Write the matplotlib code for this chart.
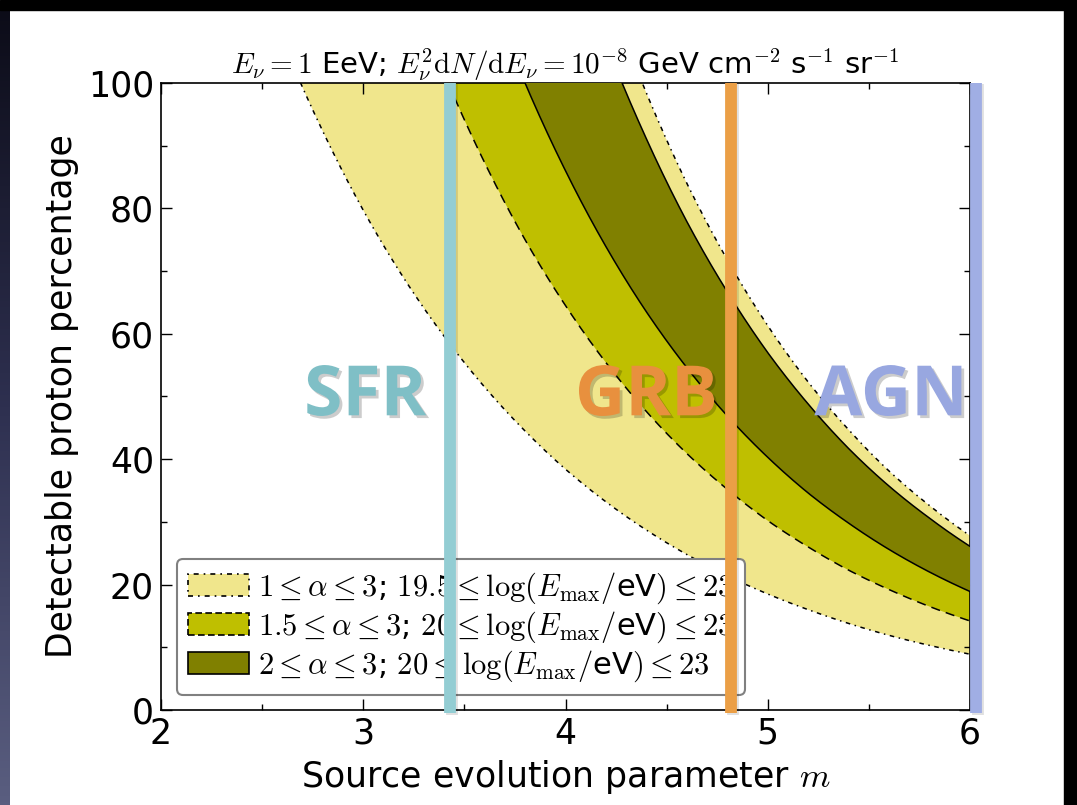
import numpy as np
import matplotlib
matplotlib.use("Agg")
import matplotlib.pyplot as plt
import matplotlib.patheffects as pe
from matplotlib.patches import Patch, Rectangle
from matplotlib.colors import LinearSegmentedColormap
from matplotlib.ticker import MultipleLocator

plt.rcParams["font.family"] = "DejaVu Sans"
plt.rcParams["mathtext.fontset"] = "cm"

# band edges: detectable proton percentage vs source evolution m
m_wide_lo = [2.6, 2.8, 3.0, 3.2, 3.4, 3.6, 3.8, 4.0, 4.2, 4.4, 4.6, 4.8, 5.0, 5.2, 5.4, 5.6, 5.8, 6.0]
pct_wide_lo = [106.8, 92.3, 79.7, 68.9, 59.6, 51.5, 44.5, 38.4, 33.2, 28.7, 24.8, 21.4, 18.5, 16.0, 13.8, 11.9, 10.3, 8.9]

m_wide_hi = [4.2, 4.4, 4.6, 4.8, 5.0, 5.2, 5.4, 5.6, 5.8, 6.0]
pct_wide_hi = [115.3, 98.4, 84.0, 71.8, 61.3, 52.3, 44.7, 38.1, 32.6, 27.8]

m_mid_lo = [3.2, 3.4, 3.6, 3.8, 4.0, 4.2, 4.4, 4.6, 4.8, 5.0, 5.2, 5.4, 5.6, 5.8, 6.0]
pct_mid_lo = [118.1, 101.5, 87.3, 75.0, 64.5, 55.4, 47.6, 40.9, 35.2, 30.2, 26.0, 22.3, 19.2, 16.5, 14.2]

m_narrow_lo = [3.6, 3.8, 4.0, 4.2, 4.4, 4.6, 4.8, 5.0, 5.2, 5.4, 5.6, 5.8, 6.0]
pct_narrow_lo = [116.3, 100.0, 86.0, 73.9, 63.5, 54.6, 46.9, 40.3, 34.6, 29.8, 25.6, 22.0, 18.9]

m_narrow_hi = [4.2, 4.4, 4.6, 4.8, 5.0, 5.2, 5.4, 5.6, 5.8, 6.0]
pct_narrow_hi = [106.4, 91.1, 77.9, 66.7, 57.0, 48.8, 41.7, 35.7, 30.6, 26.1]

band_labels = [
    r"$1 \leq \alpha \leq 3$; $19.5 \leq \log(E_{\rm max}/$eV$) \leq 23$",
    r"$1.5 \leq \alpha \leq 3$; $20 \leq \log(E_{\rm max}/$eV$) \leq 23$",
    r"$2 \leq \alpha \leq 3$; $20 \leq \log(E_{\rm max}/$eV$) \leq 23$",
]

source_names = ["SFR", "GRB", "AGN"]
source_m = [3.43, 4.82, 6.03]
source_line_colors = ["#93cdd3", "#eb9f46", "#a0aee4"]
source_text_colors = ["#7fbfc6", "#e8903e", "#98a7e0"]

fig = plt.figure(figsize=(10.77, 8.05), dpi=100)
fig.patch.set_facecolor("white")
ax = fig.add_axes([161 / 1077, 95 / 805, 809 / 1077, 627 / 805])

mm = np.linspace(2.0, 6.0, 1601)


def log_interp(m, pct, left=np.nan):
    # the edges fall off roughly exponentially, so interpolate in log space
    return np.exp(np.interp(mm, m, np.log(pct), left=np.log(left)))


wide_lo = log_interp(m_wide_lo, pct_wide_lo)
wide_hi = log_interp(m_wide_hi, pct_wide_hi, left=100)
mid_lo = log_interp(m_mid_lo, pct_mid_lo)
narrow_lo = log_interp(m_narrow_lo, pct_narrow_lo)
narrow_hi = log_interp(m_narrow_hi, pct_narrow_hi, left=100)

ax.fill_between(mm, wide_lo, wide_hi, where=mm >= m_wide_lo[0],
                facecolor="khaki", edgecolor="none", zorder=1)
ax.fill_between(mm, mid_lo, narrow_hi, where=mm >= m_mid_lo[0],
                facecolor="#bfbf00", edgecolor="none", zorder=2)
ax.fill_between(mm, narrow_lo, narrow_hi, where=mm >= m_narrow_lo[0],
                facecolor="olive", edgecolor="none", zorder=3)

dashdot = (0, (3, 3, 1, 3))
dashed = (0, (6, 4))


def edge(m, pct, ls):
    sel = mm >= m[0]
    ax.plot(mm[sel], log_interp(m, pct)[sel], color="k", lw=1.1,
            linestyle=ls, zorder=4)


edge(m_wide_lo, pct_wide_lo, dashdot)
edge(m_wide_hi, pct_wide_hi, dashdot)
edge(m_mid_lo, pct_mid_lo, dashed)
edge(m_narrow_lo, pct_narrow_lo, "-")
edge(m_narrow_hi, pct_narrow_hi, "-")

ax.set_xlim(2, 6)
ax.set_ylim(0, 100)
ax.xaxis.set_major_locator(MultipleLocator(1))
ax.xaxis.set_minor_locator(MultipleLocator(0.5))
ax.yaxis.set_major_locator(MultipleLocator(20))
ax.yaxis.set_minor_locator(MultipleLocator(10))
ax.tick_params(which="both", direction="in", top=True, right=True,
               labelsize=25, width=1)
ax.tick_params(which="major", length=8, pad=5)
ax.tick_params(which="minor", length=4)
for s in ax.spines.values():
    s.set_linewidth(1.2)

ax.set_xlabel("Source evolution parameter $m$", fontsize=25, labelpad=5)
ax.set_ylabel("Detectable proton percentage", fontsize=25, labelpad=6)
ax.set_title(r"$E_\nu = 1$ EeV; $E_\nu^2 {\rm d}N/{\rm d}E_\nu = 10^{-8}$ GeV cm$^{-2}$ s$^{-1}$ sr$^{-1}$",
             fontsize=21, pad=3)

handles = [
    Patch(facecolor="khaki", edgecolor="k", linestyle=dashdot, lw=1.2),
    Patch(facecolor="#bfbf00", edgecolor="k", linestyle=(0, (4, 2)), lw=1.2),
    Patch(facecolor="olive", edgecolor="k", lw=1.2),
]
leg = ax.legend(handles, band_labels, loc="lower left",
                bbox_to_anchor=(0.02, 0.024), borderaxespad=0,
                fontsize=22, fancybox=True, framealpha=1,
                handlelength=2.0, handleheight=0.72, labelspacing=0.12,
                handletextpad=0.3, borderpad=0.36)
leg.get_frame().set_edgecolor("#808080")
leg.get_frame().set_linewidth(1.5)
leg.set_zorder(5)

# source classes: vertical markers and names
line_fx = [pe.SimpleLineShadow(offset=(1.5, -1), shadow_color="k", alpha=0.12),
           pe.Normal()]
for m, c in zip(source_m, source_line_colors):
    ax.plot([m, m], [-0.5, 100], color=c, lw=8.5, solid_capstyle="butt",
            clip_on=False, zorder=7, path_effects=line_fx)

text_fx = [pe.SimplePatchShadow(offset=(2, -2), shadow_rgbFace="k", alpha=0.2),
           pe.Normal()]
label_pos = [3.01, 4.40, 5.61]
for name, x, c in zip(source_names, label_pos, source_text_colors):
    ax.text(x, 47.0, name, color=c, fontsize=50, fontweight="bold",
            family="Open Sans", ha="center", va="baseline", zorder=8,
            path_effects=text_fx)

# dark frame around the slide
fig.patches.append(Rectangle((0, 1 - 10 / 805), 1, 10 / 805,
                             transform=fig.transFigure, color="black", zorder=0))
fig.patches.append(Rectangle((1064 / 1077, 0), 13 / 1077, 1,
                             transform=fig.transFigure, color="black", zorder=0))
edge_ax = fig.add_axes([0, 0, 10 / 1077, 1 - 10 / 805])
grad = np.linspace(0, 1, 256)[:, None]
edge_ax.imshow(grad, aspect="auto", origin="upper",
               cmap=LinearSegmentedColormap.from_list("edge", ["#0c0c18", "#2e3050", "#5a5e80"]))
edge_ax.axis("off")

fig.savefig("out.png", dpi=100)
